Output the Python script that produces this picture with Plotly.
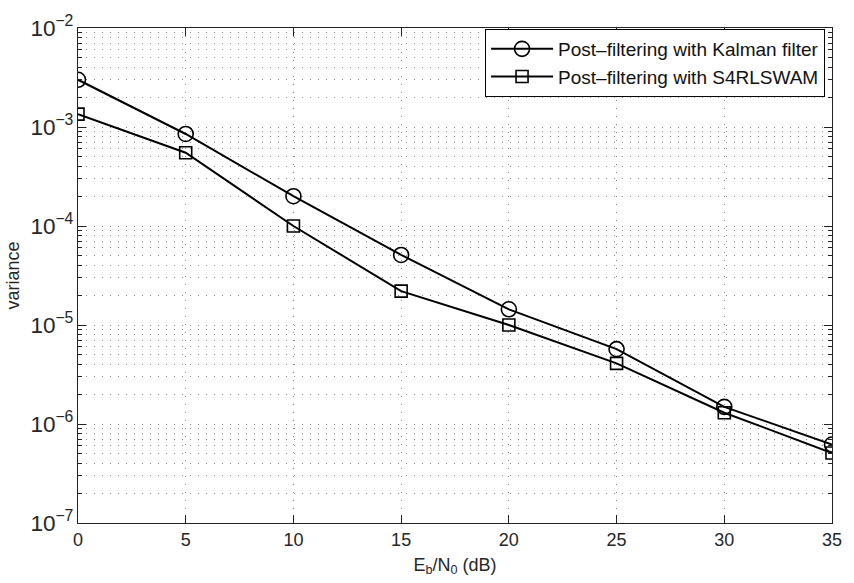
import plotly.graph_objects as go

# Eb/N0 operating points (dB)
ebn0_db = [0, 5, 10, 15, 20, 25, 30, 35]

# Estimation variance after post-filtering
var_kalman = [3.0e-3, 8.5e-4, 2.0e-4, 5.1e-5, 1.44e-5, 5.7e-6, 1.49e-6, 6.2e-7]
var_s4rlswam = [1.35e-3, 5.5e-4, 1.0e-4, 2.2e-5, 1.0e-5, 4.1e-6, 1.3e-6, 5.1e-7]

series_names = ["Post–filtering with Kalman filter", "Post–filtering with S4RLSWAM"]

FONT = "Liberation Sans, Arial, Helvetica, sans-serif"
TEXT = "#262626"
GRID = "#8a8a8a"
DOTS = "1px,7px"

fig = go.Figure()
fig.add_trace(go.Scatter(
    x=ebn0_db, y=var_kalman, name=series_names[0], mode="lines+markers",
    line=dict(color="black", width=2),
    marker=dict(symbol="circle-open", size=15, color="black", line=dict(width=1.6)),
))
fig.add_trace(go.Scatter(
    x=ebn0_db, y=var_s4rlswam, name=series_names[1], mode="lines+markers",
    line=dict(color="black", width=2),
    marker=dict(symbol="square-open", size=12, color="black", line=dict(width=1.6)),
))

fig.update_layout(
    width=854, height=583,
    margin=dict(l=76, r=15, t=18, b=57),
    paper_bgcolor="white", plot_bgcolor="white",
    font=dict(family=FONT, size=17, color=TEXT),
    showlegend=True,
    legend=dict(
        x=0.9908, y=0.998, xanchor="right", yanchor="top",
        bgcolor="white", bordercolor="black", borderwidth=1,
        font=dict(family=FONT, size=19, color="#111111"),
        tracegroupgap=0, itemwidth=62,
    ),
)

fig.update_xaxes(
    range=[0, 35], dtick=5, tick0=0,
    showline=True, linecolor="#222222", linewidth=1, mirror="allticks",
    ticks="inside", ticklen=8, tickcolor="#222222",
    showgrid=True, gridcolor=GRID, gridwidth=1, griddash=DOTS,
    zeroline=False,
    tickfont=dict(size=18, color=TEXT),
    title=dict(text="E<sub>b</sub>/N<sub>0</sub> (dB)", standoff=9,
               font=dict(size=18, color=TEXT)),
)

fig.update_yaxes(
    type="log", range=[-7, -2], dtick=1,
    exponentformat="power",
    showline=True, linecolor="#222222", linewidth=1, mirror="allticks",
    ticks="inside", ticklen=8, tickcolor="#222222",
    showgrid=True, gridcolor=GRID, gridwidth=1, griddash=DOTS,
    zeroline=False,
    minor=dict(dtick="D1", ticks="inside", ticklen=4, tickcolor="#222222",
               showgrid=True, gridcolor=GRID, gridwidth=1, griddash=DOTS),
    tickfont=dict(size=18, color=TEXT),
    title=dict(text="variance", standoff=6, font=dict(size=18, color=TEXT)),
)

fig.write_html("out.html")
